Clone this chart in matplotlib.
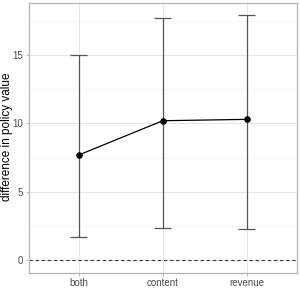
import numpy as np
import matplotlib.pyplot as plt

categories = ['both', 'content', 'revenue']
estimate = [7.7, 10.2, 10.3]
lower = [1.7, 2.4, 2.3]
upper = [15.0, 17.7, 17.9]

plt.rcParams['font.family'] = ['Liberation Sans', 'DejaVu Sans']

fig = plt.figure(figsize=(3, 3), dpi=100)
ax = fig.add_axes([0.095, 0.091, 0.895, 0.899])

x = np.arange(1, len(categories) + 1)

# grid like ggplot theme_light
for v in [2.5, 7.5, 12.5, 17.5]:
    ax.axhline(v, color='#f2f2f2', lw=0.5, zorder=0)
for v in [0, 5, 10, 15]:
    ax.axhline(v, color='#e6e6e6', lw=0.7, zorder=0)
for v in x:
    ax.axvline(v, color='#e6e6e6', lw=0.7, zorder=0)

ax.axhline(0, color='#333333', lw=0.8, ls=(0, (3, 2.5)), zorder=1)

ax.vlines(x, lower, upper, color='#555555', lw=0.9, zorder=2)
ax.hlines(lower, x - 0.1, x + 0.1, color='#555555', lw=0.9, zorder=2)
ax.hlines(upper, x - 0.1, x + 0.1, color='#555555', lw=0.9, zorder=2)

ax.plot(x, estimate, color='black', lw=0.9, zorder=3)
ax.scatter(x, estimate, color='black', s=14, zorder=4)

ax.set_xlim(0.4, 3.6)
ax.set_ylim(-0.895, 18.795)
ax.set_xticks(x)
ax.set_xticklabels(categories)
ax.set_yticks([0, 5, 10, 15])
ax.tick_params(colors='#b3b3b3', labelcolor='#4d4d4d', labelsize=7, length=2.5, width=0.6, pad=1.5)
fig.text(0.025, 0.545, 'difference in policy value', rotation=90, fontsize=8.5,
         color='black', ha='center', va='center')

for s in ax.spines.values():
    s.set_color('#b3b3b3')
    s.set_linewidth(0.9)

fig.savefig('out.png', dpi=100)
